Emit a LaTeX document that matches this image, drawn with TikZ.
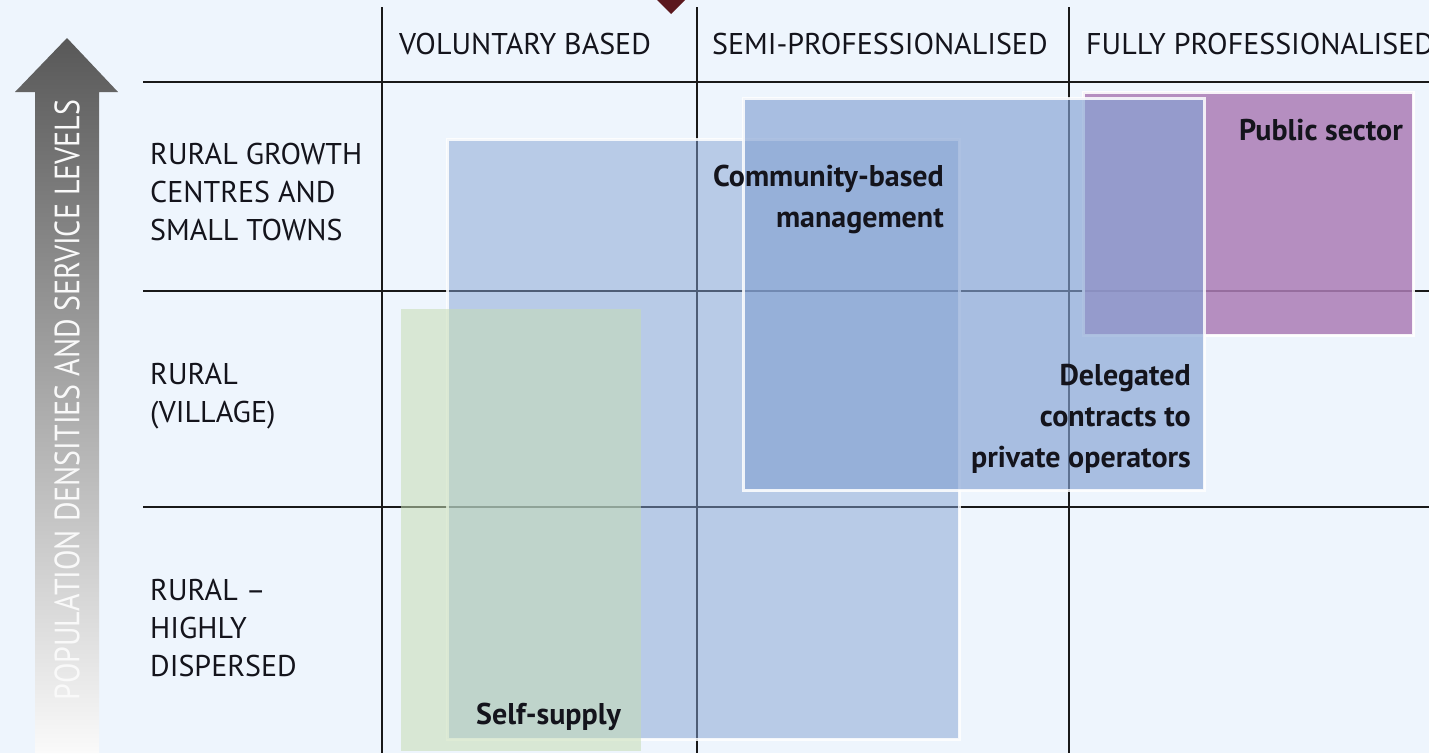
\documentclass[tikz,border=0pt]{standalone}
\usepackage{fontspec}
\setmainfont{PT Sans}
\usepackage{graphicx}
\definecolor{bgc}{RGB}{238,245,253}
\definecolor{blueb}{RGB}{132,162,211}
\definecolor{purp}{RGB}{172,124,182}
\definecolor{greenb}{RGB}{198,221,180}
\definecolor{darkred}{RGB}{92,24,30}
\definecolor{arrtop}{RGB}{88,88,88}
\definecolor{arrmid}{RGB}{125,125,125}
\definecolor{arrbot}{RGB}{250,250,250}
\definecolor{inkc}{RGB}{20,20,28}
\tikzset{
  gridline/.style={draw=black!90, line width=1.6pt},
  boxone/.style={fill=blueb, fill opacity=0.5, draw=white, draw opacity=0.85, line width=3pt},
  boxtwo/.style={fill=blueb, fill opacity=0.65, draw=white, draw opacity=0.85, line width=3pt},
  boxpurp/.style={fill=purp, fill opacity=0.85, draw=white, draw opacity=0.9, line width=3pt},
  boxgreen/.style={fill=greenb, fill opacity=0.55},
  hdr/.style={inner sep=0pt, text=inkc, font=\fontsize{30}{38}\selectfont, align=left},
  lbl/.style={inner sep=0pt, text=inkc, font=\fontsize{30}{41}\selectfont\bfseries},
}
\begin{document}
\begin{tikzpicture}[x=1pt,y=-1pt]
\useasboundingbox (0,0) rectangle (1429,753);
\clip (0,0) rectangle (1429,753);
\fill[bgc] (0,0) rectangle (1429,753);
% left arrow
\shade[top color=arrtop, middle color=arrmid, bottom color=arrbot]
  (67,38) -- (118,92) -- (99,92) -- (99,753) -- (35,753) -- (35,92) -- (15,92) -- cycle;
\node[rotate=90, text=white!95!gray, inner sep=0pt] (axis) at (67,400)
  {\resizebox{600pt}{25pt}{POPULATION DENSITIES AND SERVICE LEVELS}};
% top marker
\fill[darkred] (657,0) -- (685,0) -- (671,14) -- cycle;
% grid
\draw[gridline] (382,7) -- (382,753);
\draw[gridline] (697,7) -- (697,753);
\draw[gridline] (1069,7) -- (1069,753);
\draw[gridline] (143,82) -- (1429,82);
\draw[gridline] (143,291) -- (1429,291);
\draw[gridline] (143,507) -- (1429,507);
% boxes
\path[boxone] (447,139) rectangle (959,739);
\path[boxpurp] (1083,92) rectangle (1413,335);
\path[boxtwo] (743,98) rectangle (1204,490);
\path[boxgreen] (401,309) rectangle (641,751);
% headers
\node[hdr, anchor=base west] (h1) at (399,54) {VOLUNTARY BASED};
\node[hdr, anchor=base west] (h2) at (712,54) {SEMI-PROFESSIONALISED};
\node[hdr, anchor=base west] (h3) at (1086,54) {FULLY PROFESSIONALISED};
% row labels (base anchor = last line)
\node[hdr, anchor=base west] (r1) at (150,240) {RURAL GROWTH\\CENTRES AND\\SMALL TOWNS};
\node[hdr, anchor=base west] (r2) at (150,422) {RURAL\\(VILLAGE)};
\node[hdr, anchor=base west] (r3) at (150,676) {RURAL –\\HIGHLY\\DISPERSED};
% box labels
\node[lbl, anchor=base east, align=right] (cbm) at (944,227) {Community-based\\management};
\node[lbl, anchor=base east] (pub) at (1403,140) {Public sector};
\node[lbl, anchor=base east, align=right] (dcp) at (1191,467) {Delegated\\contracts to\\private operators};
\node[lbl, anchor=base west] (ss) at (476,724) {Self-supply};
\end{tikzpicture}
\end{document}
